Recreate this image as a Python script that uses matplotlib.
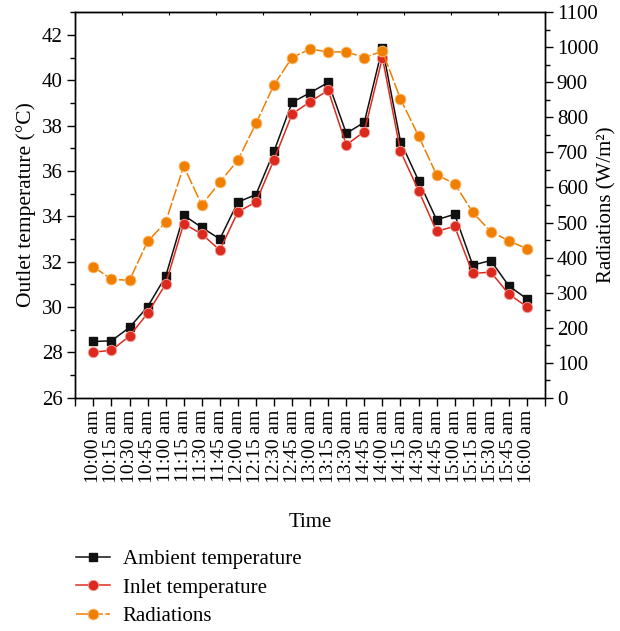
import numpy as np
import matplotlib
matplotlib.use('Agg')
import matplotlib.pyplot as plt
from matplotlib.ticker import MultipleLocator

plt.rcParams['font.family'] = ['Liberation Serif', 'DejaVu Serif']

# data
times = ['10:00 am', '10:15 am', '10:30 am', '10:45 am', '11:00 am', '11:15 am',
         '11:30 am', '11:45 am', '12:00 am', '12:15 am', '12:30 am', '12:45 am',
         '13:00 am', '13:15 am', '13:30 am', '14:45 am', '14:00 am', '14:15 am',
         '14:30 am', '14:45 am', '15:00 am', '15:15 am', '15:30 am', '15:45 am',
         '16:00 am']
ambient = [28.48, 28.51, 29.10, 30.01, 31.35, 34.05, 33.51, 33.00, 34.63, 34.96,
           36.87, 39.03, 39.45, 39.91, 37.66, 38.15, 41.44, 37.30, 35.58, 33.85,
           34.09, 31.85, 32.05, 30.93, 30.36]
inlet = [28.01, 28.09, 28.72, 29.72, 31.01, 33.68, 33.22, 32.51, 34.20, 34.63,
         36.50, 38.51, 39.06, 39.56, 37.15, 37.74, 41.00, 36.87, 35.14, 33.34,
         33.56, 31.48, 31.54, 30.57, 30.01]
radiation = [374, 338, 335, 446, 501, 661, 550, 615, 678, 783, 893, 971, 995, 987,
             987, 971, 989, 853, 747, 636, 611, 529, 474, 448, 425]

black = '#111111'
red = '#dc2b1e'
orange = '#f07f00'

x = np.arange(len(times))

fig = plt.figure(figsize=(6.2, 6.31), dpi=100)
ax = fig.add_axes([0.1215, 0.3697, 0.7575, 0.6108])
ax2 = ax.twinx()

l1, = ax.plot(x, ambient, '-s', color=black, lw=1.1, ms=6.3, mec=black,
              label='Ambient temperature')
l2, = ax.plot(x, inlet, '-o', color=red, lw=1.1, ms=7.5, mec='#f2a49c', mew=0.6,
              label='Inlet temperature')
l3, = ax2.plot(x, radiation, 'o', color=orange, lw=1.1, ms=7.8, mec='#f8c080',
               mew=0.6, ls=(0, (8, 1.6)), label='Radiations')

ax.set_xlim(-1, 25)
ax.set_ylim(26, 43)
ax2.set_ylim(0, 1100)

ax.set_xticks(np.arange(-1, 26))
ax.set_xticklabels([''] + times + [''], rotation=90, fontsize=14)
ax.yaxis.set_major_locator(MultipleLocator(2))
ax.yaxis.set_minor_locator(MultipleLocator(1))
ax2.yaxis.set_major_locator(MultipleLocator(100))
ax2.yaxis.set_minor_locator(MultipleLocator(50))

ax.tick_params(axis='x', direction='out', length=5.5, width=1, labelsize=14, pad=3)
ax.tick_params(axis='y', which='major', direction='out', length=5.5, width=1, labelsize=15)
ax.tick_params(axis='y', which='minor', direction='out', length=3.5, width=1)
ax2.tick_params(axis='y', which='major', direction='out', length=5.5, width=1, labelsize=15, pad=3)
ax2.tick_params(axis='y', which='minor', direction='out', length=3.5, width=1)

top = ax.secondary_xaxis('top')
top.set_xticks(np.linspace(-1, 25, 11))
top.set_xticklabels([])
top.tick_params(direction='in', length=2.5, width=0.8)

for a in (ax, ax2):
    for s in a.spines.values():
        s.set_linewidth(1.0)

ax.set_ylabel('Outlet temperature (°C)', fontsize=15.5, labelpad=4)
ax2.set_ylabel('Radiations (W/m²)', fontsize=15)
ax2.yaxis.set_label_coords(1.112, 0.5)
ax.set_xlabel('Time', fontsize=15, labelpad=22)

fig.legend(handles=[l1, l2, l3], loc='upper left', bbox_to_anchor=(0.122, 0.129),
           bbox_transform=fig.transFigure, frameon=False, fontsize=15,
           handlelength=1.65, handletextpad=0.6, labelspacing=0.42, borderaxespad=0,
           borderpad=0)

fig.savefig('out.png', dpi=100)
